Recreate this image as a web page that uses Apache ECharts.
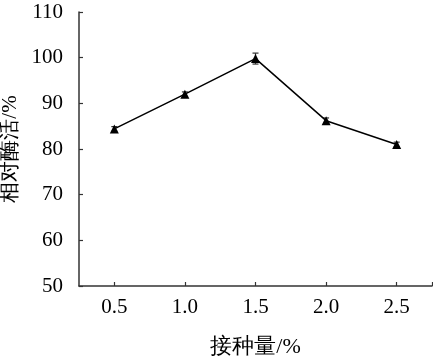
<!DOCTYPE html>
<html><head><meta charset="utf-8">
<script src="https://cdn.jsdelivr.net/npm/echarts@6/dist/echarts.min.js"></script>
<style>html,body{margin:0;padding:0;background:#fff}#c{width:433px;height:359px}</style>
</head><body><div id="c"></div>
<script>
const inoculum = [0.5, 1.0, 1.5, 2.0, 2.5];
const activity = [84.4, 92.0, 99.8, 86.2, 81.0];
const errors = [0.5, 0.5, 1.2, 0.6, 0.5];
const xTicks = [0.5, 1.0, 1.5, 2.0, 2.5, 2.75];
const yTicks = [50, 60, 70, 80, 90, 100, 110];
const xName = '接种量/%';
const yName = '相对酶活/%';

const chart = echarts.init(document.getElementById('c'));
const font = 'Liberation Serif, Times New Roman, serif';
chart.setOption({
  animation: false,
  grid: { left: 79, right: 1, top: 12, bottom: 73, containLabel: false, outerBoundsMode: 'none' },
  xAxis: {
    type: 'value', min: 0.25, max: 2.75,
    name: xName, nameLocation: 'middle', nameGap: 50,
    nameTextStyle: { fontFamily: font, fontSize: 22, color: '#000' },
    axisLine: { lineStyle: { color: '#333', width: 1.5 } },
    axisTick: { inside: true, length: 4, customValues: xTicks, lineStyle: { color: '#333', width: 1.2 } },
    axisLabel: { fontFamily: font, fontSize: 21, color: '#000', margin: 11,
      customValues: inoculum, formatter: v => v.toFixed(1) },
    splitLine: { show: false }
  },
  yAxis: {
    type: 'value', min: yTicks[0], max: yTicks[yTicks.length - 1], interval: 10,
    name: yName, nameLocation: 'middle', nameGap: 55,
    nameTextStyle: { fontFamily: font, fontSize: 21, color: '#000' },
    axisLine: { show: true, lineStyle: { color: '#333', width: 1.5 } },
    axisTick: { show: true, inside: true, length: 4, lineStyle: { color: '#333', width: 1.2 } },
    axisLabel: { fontFamily: font, fontSize: 21, color: '#000', margin: 16 },
    splitLine: { show: false }
  },
  series: [
    {
      type: 'line', data: inoculum.map((x, i) => [x, activity[i]]), symbol: 'triangle', symbolSize: 9,
      lineStyle: { color: '#000', width: 1.5 }, itemStyle: { color: '#000' }, z: 3
    },
    {
      type: 'custom', z: 2,
      data: inoculum.map((x, i) => [x, activity[i] - errors[i], activity[i] + errors[i]]),
      renderItem: function (params, api) {
        const lo = api.coord([api.value(0), api.value(1)]);
        const hi = api.coord([api.value(0), api.value(2)]);
        const w = 3;
        const st = { stroke: '#333', lineWidth: 1.2 };
        return { type: 'group', children: [
          { type: 'line', shape: { x1: lo[0], y1: lo[1], x2: hi[0], y2: hi[1] }, style: st },
          { type: 'line', shape: { x1: hi[0] - w, y1: hi[1], x2: hi[0] + w, y2: hi[1] }, style: st },
          { type: 'line', shape: { x1: lo[0] - w, y1: lo[1], x2: lo[0] + w, y2: lo[1] }, style: st }
        ]};
      }
    }
  ]
});
</script></body></html>
